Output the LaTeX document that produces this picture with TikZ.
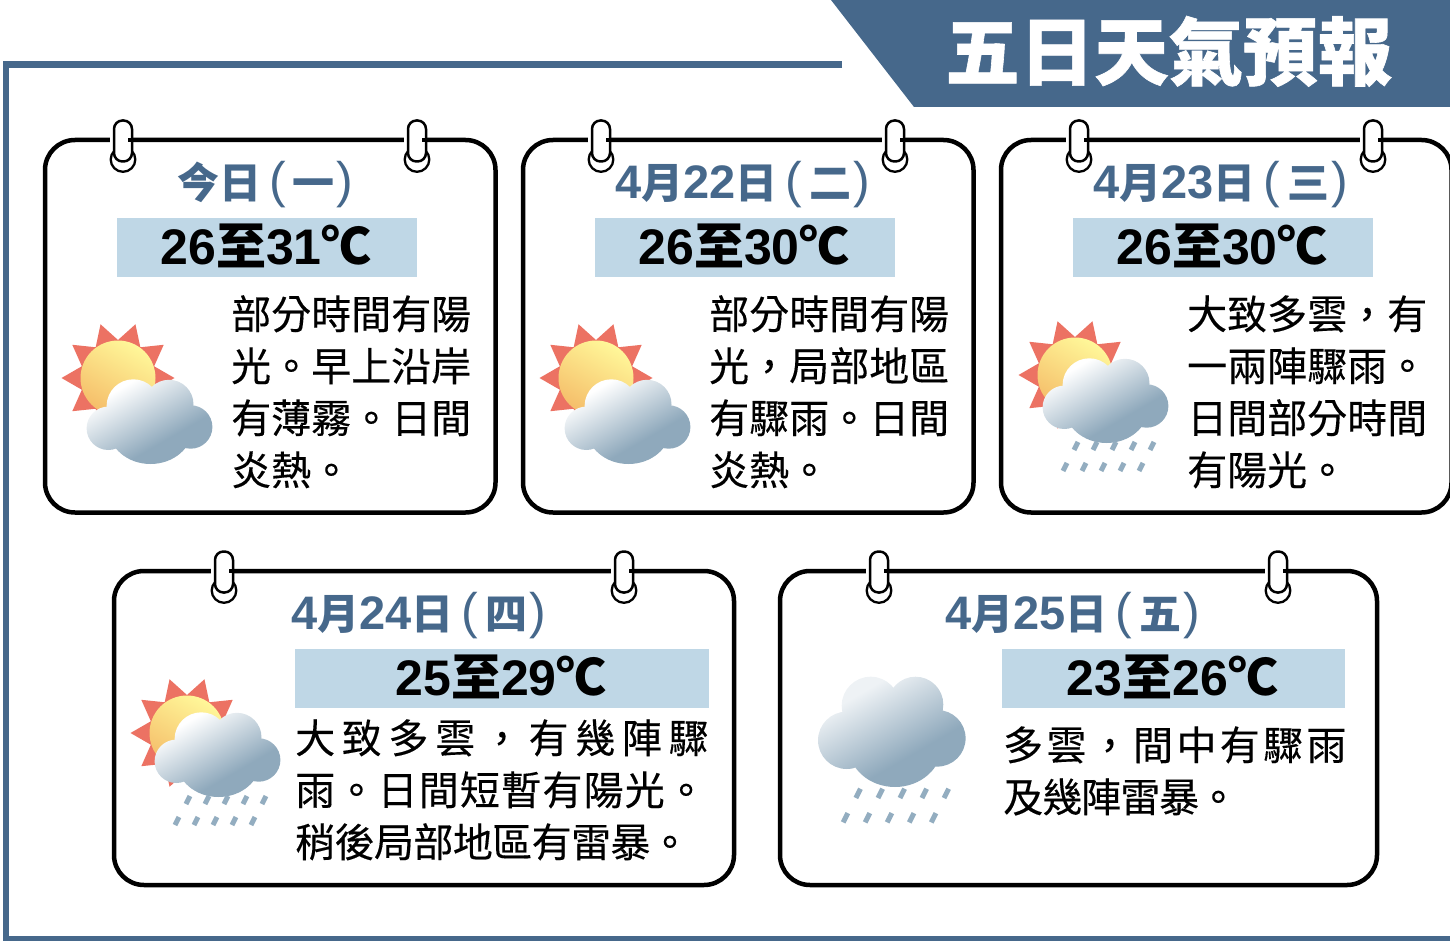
\documentclass[tikz,border=0pt]{standalone}
\usepackage{fontspec}
\setmainfont{Noto Sans CJK TC}
\newfontfamily\bodyfam[FakeBold = 0.3]{Noto Sans CJK TC}
\newfontfamily\titlefam[FakeBold = 0.8]{Noto Sans CJK TC}
\newfontfamily\latinfont{Liberation Sans}
\usetikzlibrary{positioning}
\definecolor{headblue}{HTML}{46688B}
\definecolor{barblue}{HTML}{BFD7E6}
\definecolor{raincol}{HTML}{93ADC0}
\definecolor{clouddark}{HTML}{8FA9BC}
\definecolor{cloudpale}{HTML}{EEF2F5}
\definecolor{sunray}{HTML}{EC7263}
\definecolor{suntop}{HTML}{FFF799}
\definecolor{sunlow}{HTML}{F5BE6A}
\pgfdeclareverticalshading{cloudwhite}{100bp}{color(0bp)=(clouddark); color(38bp)=(clouddark); color(72bp)=(white); color(100bp)=(white)}
\pgfdeclareverticalshading{cloudgrey}{100bp}{color(0bp)=(clouddark); color(38bp)=(clouddark); color(70bp)=(cloudpale); color(100bp)=(cloudpale)}
\newcommand\num[1]{{\latinfont\bfseries #1}}
\newcommand\daynum[1]{{\fontsize{47}{47}\selectfont\latinfont\bfseries #1}}
\newcommand\paren[1]{{\fontsize{50}{50}\selectfont\latinfont\mdseries\raisebox{1pt}{#1}}}
\tikzset{card/.style = {draw, line width = 4.5pt, rounded corners = 30pt, anchor = north west, inner sep = 0, outer sep = 0}}
\tikzset{tempbar/.style = {fill = barblue, inner sep = 0, text height = 47pt, text depth = 12pt,
                           font = \fontsize{50}{50}\selectfont\bfseries,
                           execute at begin node = {\hspace*{-2pt}}}}
\tikzset{dayname/.style = {anchor = base west, inner sep = 0, text = headblue,
                           font = \fontsize{42}{42}\selectfont\bfseries}}
\tikzset{bodytext/.style = {anchor = base west, inner sep = 0, align = left,
                            font = \fontsize{40}{52}\selectfont\bodyfam}}
\tikzset{ringpic/.pic = {
    \fill [white] (-13, -3) rectangle (-8, 3);
    \draw [fill = white, line width = 2.3pt] (0, 19.5) circle [radius = 12.3];
    \draw [fill = white, line width = 2.5pt, rounded corners = 8.5pt] (-9, -19.5) rectangle (9, 21.5);
    \draw [line width = 4.5pt] (5, 0) -- (9, 0);
  }}
\tikzset{sunpic/.pic = {
    \fill [sunray] (0:56.5) \foreach \a in {0, 36, ..., 324} { -- ({\a + 18}:38) -- ({\a + 36}:56.5)} -- cycle;
    \shade [top color = suntop, bottom color = sunlow, shading angle = -30] (0, 0) circle [radius = 37.5];
  }}
\tikzset{cloudpic/.pic = {
    \shade [shading = cloudwhite, shading angle = 30]
      (-41.7, 1.3) circle [radius = 21.7] (-16.7, -21) circle [radius = 26.7] (19, -22.7) circle [radius = 24.5]
      (40.7, 0) circle [radius = 21.7] (0.5, 1) ellipse [x radius = 42, y radius = 36];
  }}
\tikzset{bigcloudpic/.pic = {
    \shade [shading = cloudgrey, shading angle = 30]
      (-46.3, -3.7) circle [radius = 28.7] (-22.3, -38.3) circle [radius = 29] (22.5, -39.5) circle [radius = 27.8]
      (44.3, -5.7) circle [radius = 28.3] (2, 1) ellipse [x radius = 47, y radius = 42];
  }}
\tikzset{rainpic/.pic = {
    \foreach \i in {0, 1, 2, 3, 4} {
      \draw [raincol, line width = 5pt] ({-28 + 19 * \i}, 36) -- ({-32 + 19 * \i}, 44);
      \draw [raincol, line width = 5pt] ({-39 + 19 * \i}, 57) -- ({-43 + 19 * \i}, 65);
    }
  }}
\begin{document}
\begin{tikzpicture}[x = 1pt, y = -1pt]
  \useasboundingbox (0, 0) rectangle (1450, 941);
  % frame and title
  \draw [headblue, line width = 6.5pt] (842, 64.5) -- (6, 64.5) -- (6, 939) -- (1450, 939);
  \fill [headblue] (831, 0) -- (1450, 0) -- (1450, 107) -- (914, 107) -- cycle;
  \node (title) [anchor = base west, inner sep = 0, text = white, font = \fontsize{74.5}{75}\selectfont\titlefam\bfseries]
    at (945, 79.5) {五日天氣預報};
  % cards
  \node (card1) [card, minimum width = 450.5pt, minimum height = 372.5pt] at (45, 140) {};
  \node (card2) [card, minimum width = 450.5pt, minimum height = 372.5pt] at (523, 140) {};
  \node (card3) [card, minimum width = 450.5pt, minimum height = 372.5pt] at (1001, 140) {};
  \node (card4) [card, minimum width = 620pt, minimum height = 314pt] at (114, 571) {};
  \node (card5) [card, minimum width = 597pt, minimum height = 314pt] at (780, 571) {};
  \foreach \x in {123, 417, 601, 895, 1079, 1373}
    \pic at (\x, 140) {ringpic};
  \foreach \x in {224, 624, 879, 1278}
    \pic at (\x, 571) {ringpic};
  % day names
  \node (day1) [dayname] at (177, 199) {今日\hspace{8pt}\paren{(}\hspace{7pt}一\hspace{2pt}\paren{)}};
  \node (day2) [dayname] at (615, 199) {\daynum{4}月\daynum{22}日\hspace{8pt}\paren{(}\hspace{7pt}二\hspace{2pt}\paren{)}};
  \node (day3) [dayname] at (1093, 199) {\daynum{4}月\daynum{23}日\hspace{8pt}\paren{(}\hspace{7pt}三\hspace{2pt}\paren{)}};
  \node (day4) [dayname] at (291, 629) {\daynum{4}月\daynum{24}日\hspace{8pt}\paren{(}\hspace{7pt}四\hspace{2pt}\paren{)}};
  \node (day5) [dayname] at (945, 629) {\daynum{4}月\daynum{25}日\hspace{8pt}\paren{(}\hspace{7pt}五\hspace{2pt}\paren{)}};
  % temperatures
  \node (temp1) [tempbar, minimum width = 300pt] at (267, 247.5) {\num{26}至\num{31}℃};
  \node (temp2) [tempbar, minimum width = 300pt] at (745, 247.5) {\num{26}至\num{30}℃};
  \node (temp3) [tempbar, minimum width = 300pt] at (1223, 247.5) {\num{26}至\num{30}℃};
  \node (temp4) [tempbar, minimum width = 414pt] at (502, 678) {\num{25}至\num{29}℃};
  \node (temp5) [tempbar, minimum width = 343pt] at (1173.5, 678) {\num{23}至\num{26}℃};
  % forecasts
  \node (text1) [bodytext] at (231, 485) {部分時間有陽\\光。早上沿岸\\有薄霧。日間\\炎熱。};
  \node (text2) [bodytext] at (709, 485) {部分時間有陽\\光，局部地區\\有驟雨。日間\\炎熱。};
  \node (text3) [bodytext] at (1187, 485) {大致多雲，有\\一兩陣驟雨。\\日間部分時間\\有陽光。};
  \node (text4) [bodytext] at (295, 857) {\addfontfeature{LetterSpace = 16.7}大致多雲，有幾陣驟\\\addfontfeature{LetterSpace = 3}雨。日間短暫有陽光。\\\addfontfeature{LetterSpace = -1.5}稍後局部地區有雷暴。};
  \node (text5) [bodytext] at (1003, 812) {\addfontfeature{LetterSpace = 8.3}多雲，間中有驟雨\\\addfontfeature{LetterSpace = -2.5}及幾陣雷暴。};
  % weather icons
  \pic at (118, 378) {sunpic};
  \pic at (150, 427) {cloudpic};
  \pic at (596, 378) {sunpic};
  \pic at (628, 427) {cloudpic};
  \pic at (1075, 375) {sunpic};
  \pic at (1106, 406) {cloudpic};
  \pic at (1106, 406) {rainpic};
  \pic at (187, 733) {sunpic};
  \pic at (218, 760) {cloudpic};
  \pic at (218, 760) {rainpic};
  \pic at (893, 744) {bigcloudpic};
  \pic [scale = 1.16] at (893, 747) {rainpic};
\end{tikzpicture}
\end{document}
